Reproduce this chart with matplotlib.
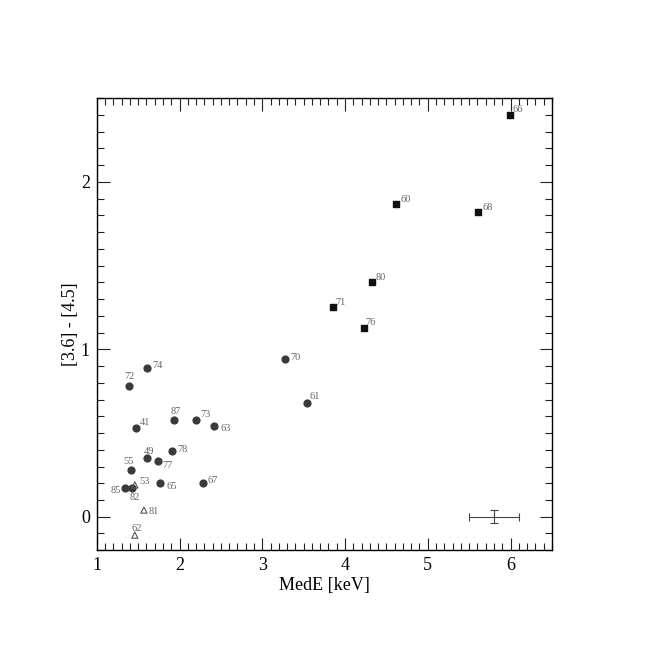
import matplotlib
matplotlib.use('Agg')
import matplotlib.pyplot as plt
from matplotlib.ticker import MultipleLocator

# sources with filled circles
circ_ids = ['74', '72', '41', '87', '73', '63', '49', '78', '77', '55',
            '85', '82', '65', '67', '70', '61']
circ_x = [1.61, 1.39, 1.47, 1.93, 2.20, 2.42, 1.61, 1.91, 1.74, 1.41,
          1.34, 1.42, 1.77, 2.28, 3.28, 3.54]
circ_y = [0.89, 0.78, 0.53, 0.58, 0.58, 0.54, 0.35, 0.39, 0.33, 0.28,
          0.17, 0.17, 0.20, 0.20, 0.94, 0.68]

# sources with filled squares
sq_ids = ['66', '60', '68', '80', '71', '76']
sq_x = [5.99, 4.62, 5.61, 4.33, 3.85, 4.23]
sq_y = [2.40, 1.87, 1.82, 1.40, 1.25, 1.13]

# sources with open triangles
tri_ids = ['53', '81', '62']
tri_x = [1.46, 1.57, 1.46]
tri_y = [0.19, 0.04, -0.11]

# typical error bar
err_x, err_y = 5.80, 0.0
err_dx, err_dy = 0.30, 0.04

# label offsets in pixels (dx, dy), screen coords
offsets = {
    '74': (10, 2), '72': (0, 10), '41': (9, 6), '87': (2, 8), '73': (9, 5),
    '63': (11, -2), '49': (2, 7), '78': (10, 2), '77': (10, -4), '55': (-2, 8),
    '85': (-9, -2), '82': (3, -9), '65': (11, -3), '67': (10, 3), '70': (10, 2),
    '61': (8, 6), '66': (8, 5), '60': (9, 4), '68': (9, 5), '80': (8, 5),
    '71': (8, 5), '76': (7, 5), '53': (10, 3), '81': (10, -1), '62': (2, 7),
}

plt.rcParams['font.family'] = ['Liberation Serif', 'DejaVu Serif']

fig = plt.figure(figsize=(6.48, 6.48), dpi=100)
ax = fig.add_axes([0.1493, 0.1509, 0.7024, 0.6975])

ax.scatter(circ_x, circ_y, s=24, marker='o', color='#3a3a3a', zorder=3)
ax.scatter(sq_x, sq_y, s=18, marker='s', color='#111111', zorder=3)
ax.scatter(tri_x, tri_y, s=20, marker='^', facecolors='none',
           edgecolors='#555555', linewidths=0.8, zorder=3)

ax.errorbar([err_x], [err_y], xerr=[err_dx], yerr=[err_dy], fmt='none',
            ecolor='#444444', elinewidth=0.8, capsize=3, capthick=0.8)

for ids, xs, ys in [(circ_ids, circ_x, circ_y), (sq_ids, sq_x, sq_y),
                    (tri_ids, tri_x, tri_y)]:
    for name, x, y in zip(ids, xs, ys):
        ax.annotate(name, (x, y), xytext=offsets[name],
                    textcoords='offset pixels', ha='center', va='center',
                    fontsize=7.5, color='#666666')

ax.set_xlim(1, 6.5)
ax.set_ylim(-0.2, 2.5)
ax.xaxis.set_major_locator(MultipleLocator(1))
ax.xaxis.set_minor_locator(MultipleLocator(0.1))
ax.yaxis.set_major_locator(MultipleLocator(1))
ax.yaxis.set_minor_locator(MultipleLocator(0.1))
ax.tick_params(which='both', direction='in', top=True, right=True,
               width=0.8, color='#222222')
ax.tick_params(which='major', length=9, labelsize=13, pad=5)
ax.tick_params(which='minor', length=5)
for sp in ax.spines.values():
    sp.set_linewidth(1.0)

ax.set_xlabel('MedE [keV]', fontsize=13, labelpad=2)
ax.set_ylabel('[3.6] - [4.5]', fontsize=13, labelpad=1)

fig.savefig('out.png', dpi=100)
